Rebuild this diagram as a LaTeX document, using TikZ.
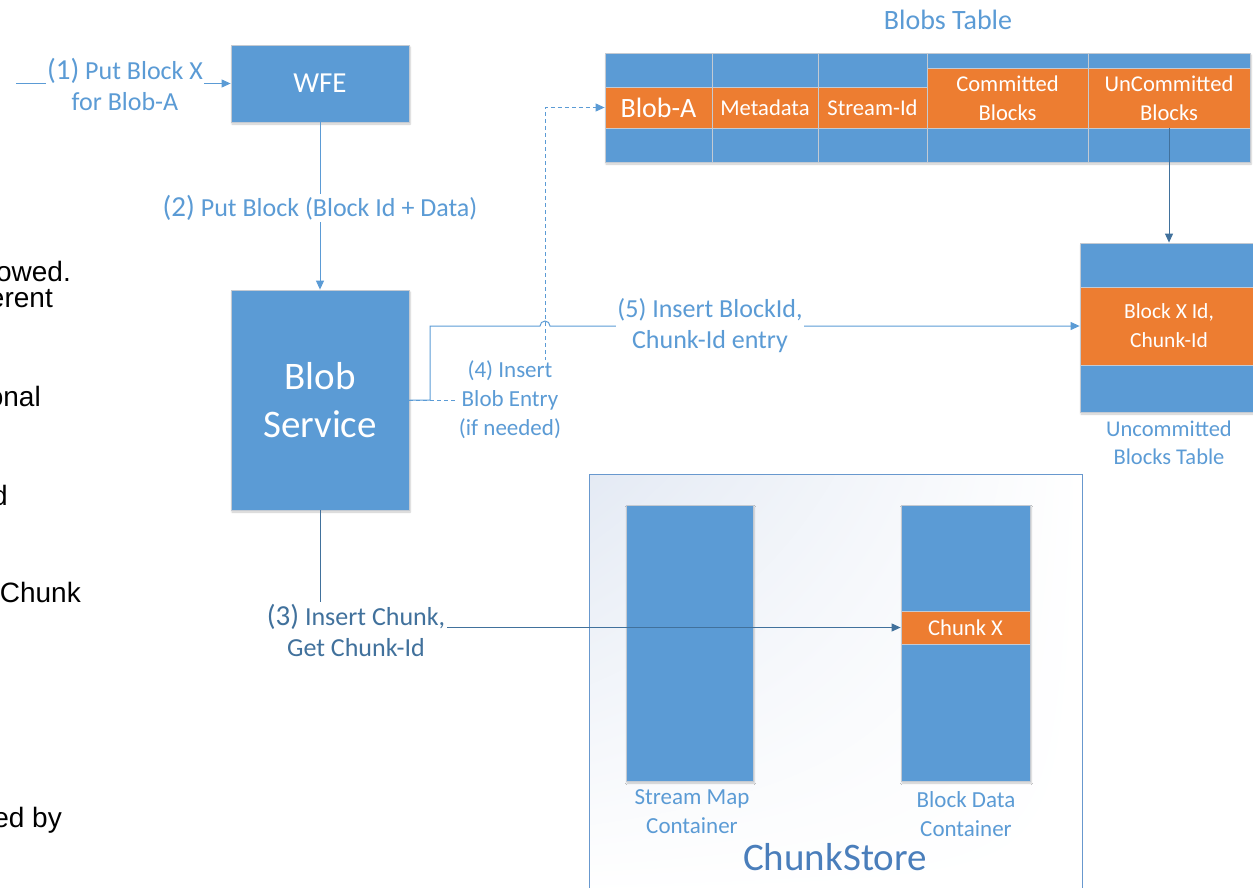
\documentclass[tikz,border=0pt]{standalone}
\usepackage{fontspec}
\setmainfont{Carlito}
\newfontfamily\arialfont{Liberation Sans}
\usetikzlibrary{arrows.meta,shadows.blur,calc,shadings}

\definecolor{cblue}{RGB}{91,155,213}
\definecolor{corange}{RGB}{237,125,49}
\definecolor{cgrid}{RGB}{196,202,210}
\definecolor{clbl}{RGB}{91,155,213}
\definecolor{cdark}{RGB}{65,113,156}
\definecolor{cstore}{RGB}{74,126,187}
\definecolor{cstoreedge}{RGB}{104,152,206}
\definecolor{cstorebg}{RGB}{228,234,244}

\newcommand\myfs[2]{\fontsize{#1}{#2}\selectfont}

\begin{document}
\begin{tikzpicture}[x=1pt,y=-1pt,
  softshadow/.style={blur shadow={shadow xshift=1pt,shadow yshift=-2pt,shadow blur steps=6,shadow opacity=22}},
  box/.style={draw=cgrid, line width=0.8pt, fill=cblue, text=white, inner sep=0pt, align=center},
  ocell/.style={draw=cgrid, line width=0.8pt, fill=corange, text=white, inner sep=0pt, align=center, font=\myfs{22.6}{29}},
  bcell/.style={draw=cgrid, line width=0.8pt, fill=cblue},
  lbl/.style={fill=white, text=clbl, inner sep=1.5pt, align=center, font=\myfs{26}{31}},
  caption/.style={text=clbl, inner sep=0pt, align=center, font=\myfs{23}{29}},
  wire/.style={draw=clbl, line width=1pt},
  arrowtip/.style={-{Triangle[length=9pt,width=8pt]}},
  frag/.style={anchor=base east, inner sep=0pt, text=black, font=\arialfont\myfs{28}{32}}]

\useasboundingbox (0,0) rectangle (1253,887);

% text fragments at the left edge
\node[frag] (f1) at (71,281) {owed.};
\node[frag] (f2) at (53,307) {erent};
\node[frag] (f3) at (41,406) {onal};
\node[frag] (f4) at (8,505) {d};
\node[frag] (f5) at (81,602) {Chunk};
\node[frag] (f6) at (62,827) {ed by};

% ChunkStore with its two containers
\node[draw=cstoreedge, line width=1pt, inner sep=0pt, minimum width=493pt, minimum height=421pt,
      upper left=cstorebg, upper right=white, lower left=white, lower right=white] (cs) at (835.5,684.5) {};
\node[box, softshadow, minimum width=127pt, minimum height=276pt] (smc) at (689.5,643) {};
\node[box, softshadow, minimum width=129pt, minimum height=276pt] (bdc) at (965.5,643) {};
\node[ocell, minimum width=129pt, minimum height=33pt] (chx) at (965.5,627.5) {Chunk X};
\node[caption] (smcl) at (692,812) {Stream Map\\Container};
\node[caption] (bdcl) at (966,814) {Block Data\\Container};
\node[text=cstore, inner sep=0pt, font=\myfs{39}{44}] (csl) at (835,857) {ChunkStore};

% Blobs table
\node[text=clbl, inner sep=0pt, font=\myfs{28}{32}] (btl) at (948,20) {Blobs Table};
\path[softshadow, fill=white] (605,53) rectangle (1250,162);
\path[bcell] (605,53) rectangle (712,87);
\path[bcell] (712,53) rectangle (818,87);
\path[bcell] (818,53) rectangle (927,87);
\path[bcell] (927,53) rectangle (1088,68);
\path[bcell] (1088,53) rectangle (1250,68);
\path[bcell] (605,128) rectangle (712,162);
\path[bcell] (712,128) rectangle (818,162);
\path[bcell] (818,128) rectangle (927,162);
\path[bcell] (927,128) rectangle (1088,162);
\path[bcell] (1088,128) rectangle (1250,162);
\node[ocell, minimum width=107pt, minimum height=41pt, font=\myfs{28}{32}] (blobA) at (658.5,107.5) {Blob-A};
\node[ocell, minimum width=106pt, minimum height=41pt] (meta) at (765,107.5) {Metadata};
\node[ocell, minimum width=109pt, minimum height=41pt] (sid) at (872.5,107.5) {Stream-Id};
\node[ocell, minimum width=161pt, minimum height=60pt] (cb) at (1007.5,98) {Committed\\Blocks};
\node[ocell, minimum width=162pt, minimum height=60pt] (ucb) at (1169,98) {UnCommitted\\Blocks};

% Uncommitted blocks table
\path[softshadow, fill=white] (1080,243) rectangle (1258,412);
\node[bcell, inner sep=0pt, minimum width=178pt, minimum height=44pt] (ut1) at (1169,265) {};
\node[ocell, font=\myfs{21.5}{29}, minimum width=178pt, minimum height=78pt] (ukx) at (1169,326) {Block X Id,\\Chunk-Id};
\node[bcell, inner sep=0pt, minimum width=178pt, minimum height=47pt] (ut3) at (1169,388.5) {};
\node[caption, font=\myfs{22.5}{28}] (utl) at (1169,443) {Uncommitted\\Blocks Table};

% Front end and blob service
\node[box, softshadow, minimum width=178pt, minimum height=77pt, font=\myfs{29}{34}] (wfe) at (320,83.5) {WFE};
\node[box, softshadow, minimum width=178pt, minimum height=220pt, font=\myfs{39}{48}] (bs) at (320,400) {Blob\\Service};

% connectors
\coordinate (in1) at (16,83.5);
\coordinate (j4) at (545,400);
\coordinate (j5) at (430,400);
\draw[wire, arrowtip] (in1) -- (wfe.west);
\draw[wire, arrowtip] (wfe.south) -- (bs.north);
\draw[wire, dash pattern=on 4pt off 3pt, arrowtip] (bs.east) -- (j4) |- (blobA.west);
\draw[wire, arrowtip] (bs.east) -- (j5) |- ($(j4 |- ukx.west)+(-5,0)$)
   arc[start angle=180, end angle=0, radius=5pt] -- (ukx.west);
\draw[wire, draw=cdark, arrowtip] (bs.south) |- (chx.west);
\draw[wire, draw=cdark, arrowtip] (ucb.south) -- (ut1.north);

% connector labels
\node[lbl] (l1) at (125,84) {{\myfs{29}{31}(1)} Put Block X\\for Blob-A};
\node[lbl] (l2) at (320,208) {{\myfs{29}{31}(2)} Put Block (Block Id + Data)};
\node[lbl, text=cdark] (l3) at (356,630) {{\myfs{29}{31}(3)} Insert Chunk,\\Get Chunk-Id};
\node[lbl, font=\myfs{23}{29}] (l4) at (510,400) {(4) Insert\\Blob Entry\\(if needed)};
\node[lbl] (l5) at (710,326) {(5) Insert BlockId,\\Chunk-Id entry};
\end{tikzpicture}
\end{document}
